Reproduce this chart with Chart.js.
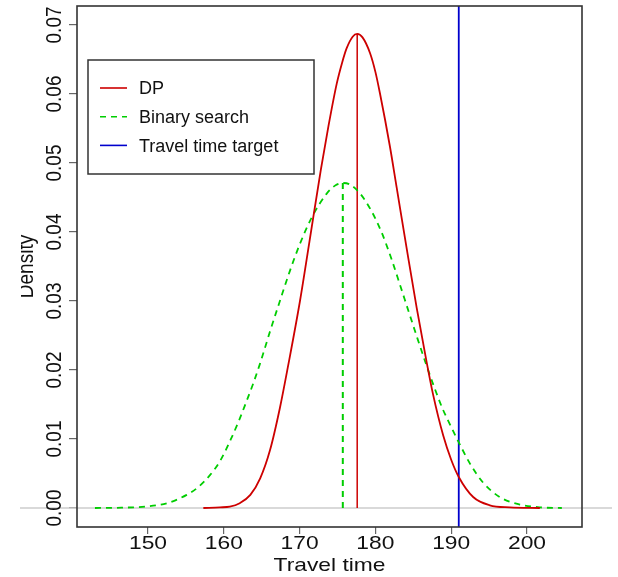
<!DOCTYPE html>
<html>
<head>
<meta charset="utf-8">
<script src="https://cdn.jsdelivr.net/npm/chart.js@4.4.0/dist/chart.umd.min.js"></script>
<style>
	body { margin: 0; background: #fff; }
	canvas { display: block; }
</style>
</head>
<body>
<canvas id="chart" width="618" height="577"></canvas>
<script>
// density curves
const dpTime = [157.3, 159.5, 160.8, 162.1, 163.5, 164.8, 166.1, 167.4, 168.5, 170.05, 171.3, 172.8, 173.8, 174.9, 175.6, 176.2, 177.0, 177.6, 178.3, 179.3, 180.0, 180.6, 181.9, 182.8, 184.1, 185.45, 186.7, 187.6, 188.95, 190.0, 191.0, 192.9, 195.1, 197.75, 201.7];
const dpDensity = [0, 0.0001, 0.0002, 0.0007, 0.0019, 0.0043, 0.0084, 0.0145, 0.0207, 0.0300, 0.0386, 0.0490, 0.0553, 0.0615, 0.0645, 0.0666, 0.0683, 0.0687, 0.0682, 0.0659, 0.0632, 0.0601, 0.0525, 0.0465, 0.0378, 0.0290, 0.0215, 0.0165, 0.0105, 0.0070, 0.0045, 0.0016, 0.0004, 0.0001, 0];

const bsTime = [143.0, 146.5, 149.6, 152.5, 155.1, 156.6, 158.2, 159.5, 160.9, 162.05, 162.9, 163.9, 164.8, 166.1, 167.4, 168.7, 170.05, 171.6, 173.6, 174.8, 175.7, 176.6, 177.97, 179.5, 180.8, 182.15, 183.2, 184.35, 185.45, 186.7, 187.8, 188.9, 189.8, 191.1, 192.5, 194.2, 196.4, 199.1, 201.7, 204.6];
const bsDensity = [0, 0.00005, 0.0002, 0.0007, 0.0019, 0.0030, 0.0048, 0.0068, 0.0099, 0.0128, 0.0152, 0.0181, 0.0210, 0.0256, 0.0300, 0.0343, 0.0383, 0.0421, 0.0456, 0.0468, 0.0471, 0.0469, 0.0456, 0.0430, 0.0400, 0.0360, 0.0325, 0.0286, 0.0249, 0.0208, 0.0174, 0.0143, 0.0122, 0.0093, 0.0064, 0.0037, 0.0016, 0.0005, 0.0001, 0];

const dpMode = 177.6;
const dpPeak = 0.0687;
const bsMode = 175.7;
const bsPeak = 0.0471;
const target = 191.0;

const seriesLabels = ["DP", "Binary search", "Travel time target"];
const xTicks = [150, 160, 170, 180, 190, 200];
const yTicks = [0, 0.01, 0.02, 0.03, 0.04, 0.05, 0.06, 0.07];
const xRange = [140.63, 207.26];
const yRange = [-0.00275, 0.07275];

const red = "#cd0000";
const green = "#00cd00";
const blue = "#0000cd";
const dash = [6, 5];
const textFont = "19px 'Liberation Sans', Arial, sans-serif";
const stretch = 1.2;

function toPoints(xs, ys) {
	return xs.map((x, i) => ({ x: x, y: ys[i] }));
}

const rPlot = {
	id: "rPlot",
	beforeDatasetsDraw(chart) {
		const ctx = chart.ctx;
		const y0 = chart.scales.y.getPixelForValue(0);
		ctx.save();
		ctx.strokeStyle = "#cccccc";
		ctx.lineWidth = 1.5;
		ctx.beginPath();
		ctx.moveTo(20, y0);
		ctx.lineTo(612, y0);
		ctx.stroke();
		ctx.restore();
	},
	afterDraw(chart) {
		const ctx = chart.ctx;
		const area = chart.chartArea;
		const xs = chart.scales.x;
		const ys = chart.scales.y;
		ctx.save();
		ctx.strokeStyle = "#333";
		ctx.lineWidth = 1.6;
		ctx.strokeRect(area.left, area.top, area.right - area.left, area.bottom - area.top);

		ctx.fillStyle = "#111";
		ctx.font = textFont;
		ctx.textAlign = "center";
		ctx.textBaseline = "alphabetic";
		xTicks.forEach(v => {
			ctx.save();
			ctx.translate(xs.getPixelForValue(v), area.bottom + 21.5);
			ctx.scale(stretch, 1);
			ctx.fillText(String(v), 0, 0);
			ctx.restore();
		});
		yTicks.forEach(v => {
			ctx.save();
			ctx.translate(area.left - 16, ys.getPixelForValue(v));
			ctx.scale(stretch, 1);
			ctx.rotate(-Math.PI / 2);
			ctx.fillText(v.toFixed(2), 0, 0);
			ctx.restore();
		});

		ctx.save();
		ctx.translate((area.left + area.right) / 2, area.bottom + 44);
		ctx.scale(stretch, 1);
		ctx.fillText("Travel time", 0, 0);
		ctx.restore();

		// y title is cut at the left edge in the original
		ctx.save();
		ctx.beginPath();
		ctx.rect(21, 0, 100, chart.height);
		ctx.clip();
		ctx.translate(33, (area.top + area.bottom) / 2);
		ctx.scale(stretch, 1);
		ctx.rotate(-Math.PI / 2);
		ctx.fillText("Density", 0, 0);
		ctx.restore();

		// legend box
		const lx = area.left + 11;
		const ly = area.top + 54;
		ctx.strokeStyle = "#333";
		ctx.lineWidth = 1.5;
		ctx.strokeRect(lx, ly, 226, 114);
		ctx.font = "18px 'Liberation Sans', Arial, sans-serif";
		ctx.textAlign = "left";
		const rows = [0, 1, 4];
		rows.forEach((di, i) => {
			const ds = chart.data.datasets[di];
			const yy = ly + 28 + i * 28.7;
			ctx.strokeStyle = ds.borderColor;
			ctx.lineWidth = 1.6;
			ctx.setLineDash(ds.borderDash || []);
			ctx.beginPath();
			ctx.moveTo(lx + 12, yy);
			ctx.lineTo(lx + 39, yy);
			ctx.stroke();
			ctx.setLineDash([]);
			ctx.fillText(ds.label, lx + 51, yy + 6.3);
		});
		ctx.restore();
	}
};

new Chart(document.getElementById("chart"), {
	type: "line",
	data: {
		datasets: [
		{
			label: seriesLabels[0],
			data: toPoints(dpTime, dpDensity),
			borderColor: red,
			borderWidth: 1.8,
			cubicInterpolationMode: "monotone"
		}, {
			label: seriesLabels[1],
			data: toPoints(bsTime, bsDensity),
			borderColor: green,
			borderWidth: 1.8,
			borderDash: dash,
			cubicInterpolationMode: "monotone"
		}, {
			label: "DP mode",
			data: toPoints([dpMode, dpMode], [0, dpPeak]),
			borderColor: red,
			borderWidth: 1.5
		}, {
			label: "Binary search mode",
			data: toPoints([bsMode, bsMode], [0, bsPeak]),
			borderColor: green,
			borderWidth: 2,
			borderDash: dash
		}, {
			label: seriesLabels[2],
			data: toPoints([target, target], yRange),
			borderColor: blue,
			borderWidth: 1.8
		}]
	},
	options: {
		responsive: false,
		animation: false,
		devicePixelRatio: 1,
		elements: { point: { radius: 0 } },
		layout: { padding: { left: 0, top: 6, right: 36, bottom: 0 } },
		plugins: { legend: { display: false }, tooltip: { enabled: false } },
		scales: {
			x: {
				type: "linear",
				min: xRange[0],
				max: xRange[1],
				border: { display: false },
				grid: { drawOnChartArea: false, tickLength: 7, color: "#666", lineWidth: 1.2 },
				ticks: { display: false },
				afterBuildTicks: s => { s.ticks = xTicks.map(v => ({ value: v })); },
				afterFit: s => { s.height = 50; }
			},
			y: {
				type: "linear",
				min: yRange[0],
				max: yRange[1],
				border: { display: false },
				grid: { drawOnChartArea: false, tickLength: 8, color: "#666", lineWidth: 1.2 },
				ticks: { display: false },
				afterBuildTicks: s => { s.ticks = yTicks.map(v => ({ value: v })); },
				afterFit: s => { s.width = 77; }
			}
		}
	},
	plugins: [rPlot]
});
</script>
</body>
</html>
